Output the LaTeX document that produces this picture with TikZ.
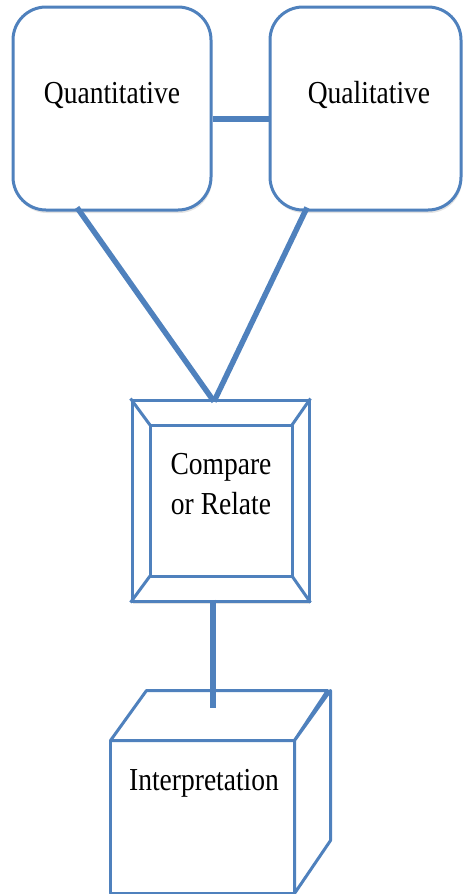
\documentclass[tikz,border=0pt]{standalone}
\usepackage{fontspec}
\setmainfont{Liberation Serif}[FakeStretch=0.86]
\usetikzlibrary{shadows,calc}
\definecolor{lineblue}{RGB}{79,129,189}
\begin{document}
\begin{tikzpicture}[x=1pt,y=-1pt,
  shad/.style={drop shadow={opacity=0.22,shadow xshift=1pt,shadow yshift=-3pt}},
  box/.style={draw=lineblue,line width=3pt,fill=white,rounded corners=33pt,inner sep=0pt,shad},
  sqbox/.style={draw=lineblue,line width=3pt,fill=white,inner sep=0pt},
  conn/.style={draw=lineblue,line width=5.5pt},
  edgeline/.style={draw=lineblue,line width=3pt,line join=round},
  lbl/.style={font=\fontsize{32}{40}\selectfont,inner sep=0pt,align=center}]
\useasboundingbox (0,0) rectangle (463,894);

% top boxes
\node[box,minimum width=198pt,minimum height=203pt] (quant) at (112,108.5) {};
\node[box,minimum width=191pt,minimum height=203pt] (qual) at (365.5,108.5) {};
\node[lbl,anchor=base] (quanttext) at (112,103) {Quantitative};
\node[lbl,anchor=base] (qualtext) at (369,103) {Qualitative};

% bevel box
\node[sqbox,shad,minimum width=177pt,minimum height=201pt] (bevel) at (220.5,500.5) {};
\coordinate (inw) at (150,425);
\coordinate (ine) at (292,425);
\coordinate (ise) at (292,576);
\coordinate (isw) at (150,576);
\draw[edgeline] (inw) -- (ine) -- (ise) -- (isw) -- cycle;
\draw[edgeline] (bevel.north west) -- (inw);
\draw[edgeline] (bevel.north east) -- (ine);
\draw[edgeline] (bevel.south east) -- (ise);
\draw[edgeline] (bevel.south west) -- (isw);
\node[lbl] (beveltext) at (221,484.5) {Compare\\or Relate};

% cube
\node[sqbox,draw=none,minimum width=181pt,minimum height=150pt] (front) at (202.5,817) {};
\draw[edgeline,fill=white] (front.north west) -- ++(36,-50) -- ++(181,0) -- (front.north east) -- cycle;
\draw[edgeline,fill=white] (front.north east) -- ++(36,-50) -- ++(0,150) -- (front.south east) -- cycle;
\draw[edgeline] (front.north west) rectangle (front.south east);
\node[lbl,anchor=base] (cubetext) at (204,790) {Interpretation};
\coordinate (cubetop) at (213,708);

% connectors
\draw[conn] ([yshift=-10.5pt]quant.east) -- ([yshift=-10.5pt]qual.west);
\draw[conn] ([shift={(-35pt,4pt)}]quant.south) -- ([shift={(-6.5pt,-3pt)}]bevel.north);
\draw[conn] ([shift={(-58.5pt,4pt)}]qual.south) -- ([shift={(-6.5pt,-3pt)}]bevel.north);
\draw[conn] ([shift={(-7.5pt,3pt)}]bevel.south) -- (cubetop);
\end{tikzpicture}
\end{document}
